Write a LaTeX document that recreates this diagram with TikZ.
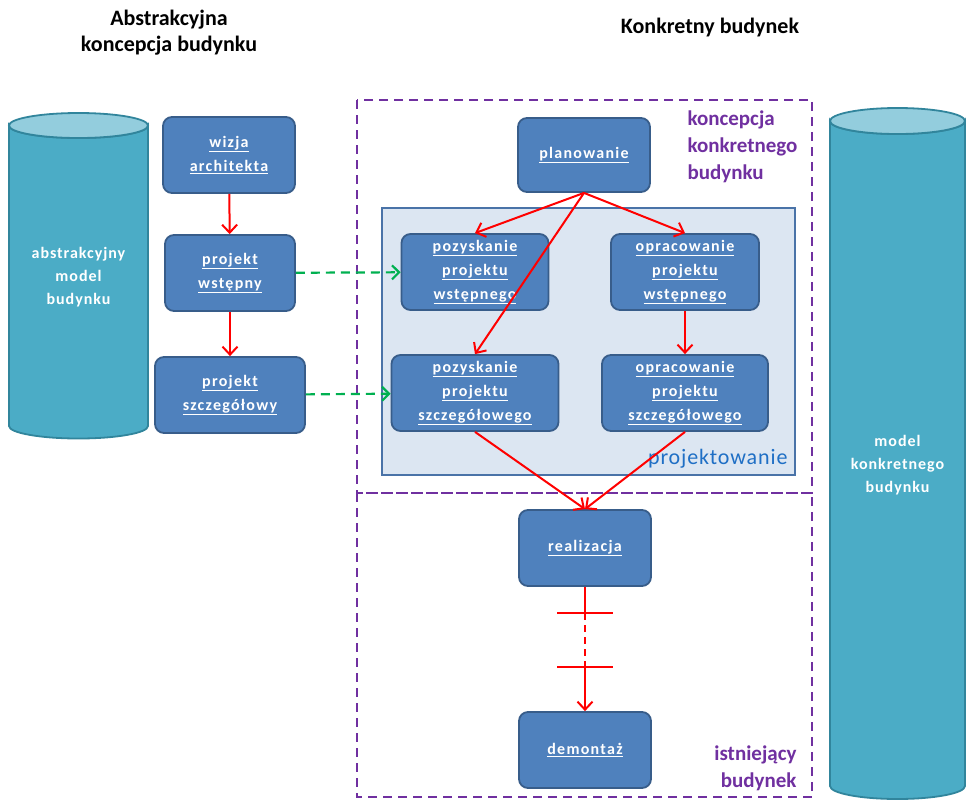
\documentclass[tikz,border=0pt]{standalone}
\usepackage{fontspec}
\setmainfont{Carlito}
\usetikzlibrary{arrows.meta}

\definecolor{boxfill}{HTML}{4F81BD}
\definecolor{boxline}{HTML}{385D8A}
\definecolor{cylbody}{HTML}{4BACC6}
\definecolor{cyltop}{HTML}{93CDDD}
\definecolor{cylline}{HTML}{31859C}
\definecolor{projfill}{HTML}{DCE6F2}
\definecolor{projline}{HTML}{4A73A8}
\definecolor{projtext}{HTML}{1F6FC5}
\definecolor{fiolet}{HTML}{7030A0}
\definecolor{zielony}{HTML}{00B050}

\newcommand{\podkr}[1]{\underline{#1}}

\tikzset{
	etap/.style={draw=boxline, line width=1.8pt, fill=boxfill, rounded corners=9pt, text=white, align=center,
		font=\bfseries\addfontfeature{LetterSpace=8}\fontsize{16}{24}\selectfont, minimum height=76pt, inner sep=0pt},
	strz/.style={draw=red, line width=2pt, -{Straight Barb[length=8pt,width=15pt]}},
	ziel/.style={draw=zielony, line width=2.2pt, dash pattern=on 9pt off 6pt, -{Straight Barb[length=7pt,width=14pt]}},
	ramka/.style={draw=fiolet, line width=2.2pt, dash pattern=on 9pt off 6pt},
	cyl/.style={fill=cylbody, draw=cylline, line width=1.8pt},
	cyltxt/.style={text=white, align=center, font=\bfseries\addfontfeature{LetterSpace=6}\fontsize{16}{23}\selectfont},
	tytul/.style={align=center, font=\bfseries\fontsize{22}{26}\selectfont},
	fioltxt/.style={text=fiolet, font=\bfseries\fontsize{21}{27}\selectfont}
}

\begin{document}
\begin{tikzpicture}[x=1pt, y=-1pt]
	\useasboundingbox (0,0) rectangle (967,804);
	
	% cylindry
	\draw[cyl] (9,125.5) -- (9,426) arc(180:0:69.5 and 12.5) -- (148,125.5) arc(0:180:69.5 and 12.5) -- cycle;
	\draw[cyl, fill=cyltop] (78.5,125.5) ellipse (69.5 and 12.5);
	\node[cyltxt] (cylabs) at (78.5,277) {abstrakcyjny\\model\\budynku};
	
	\draw[cyl] (830,121) -- (830,786) arc(180:0:67.5 and 13) -- (965,121) arc(0:180:67.5 and 13) -- cycle;
	\draw[cyl, fill=cyltop] (897.5,121) ellipse (67.5 and 13);
	\node[cyltxt] (cylkonk) at (897.5,465) {model\\konkretnego\\budynku};
	
	% tytuly
	\node[tytul] (tabs) at (169,33) {Abstrakcyjna\\koncepcja budynku};
	\node[tytul] (tkonk) at (710,28) {Konkretny budynek};
	
	% ramki
	\draw[ramka] (357,100) rectangle (812,493);
	\draw[ramka] (357,493) rectangle (812,797);
	\draw[draw=projline, fill=projfill, line width=1.5pt] (382,208) rectangle (795,475);
	\node[text=projtext, font=\addfontfeature{LetterSpace=4}\fontsize{22}{24}\selectfont, anchor=east] (tproj) at (791,459) {projektowanie};
	\node[fioltxt, align=left, anchor=north west] (tkonc) at (684,107) {koncepcja\\konkretnego\\budynku};
	\node[fioltxt, align=right, anchor=south east] (tistn) at (800,794) {istniejący\\budynek};
	
	% etapy
	\node[etap, minimum width=132pt] (wizja) at (229,155) {\podkr{wizja}\\\podkr{architekta}};
	\node[etap, minimum width=130pt] (pwst) at (230,273) {\podkr{projekt}\\\podkr{wstępny}};
	\node[etap, minimum width=150pt] (pszcz) at (230,395) {\podkr{projekt}\\\podkr{szczegółowy}};
	
	\node[etap, minimum width=132pt, minimum height=74pt] (plan) at (584,155) {\podkr{planowanie}};
	\node[etap, minimum width=147pt] (pozw) at (475,272) {\podkr{pozyskanie}\\\podkr{projektu}\\\podkr{wstępnego}};
	\node[etap, minimum width=148pt] (oprw) at (685,272) {\podkr{opracowanie}\\\podkr{projektu}\\\podkr{wstępnego}};
	\node[etap, minimum width=167pt] (pozs) at (475,393) {\podkr{pozyskanie}\\\podkr{projektu}\\\podkr{szczegółowego}};
	\node[etap, minimum width=166pt] (oprs) at (685,393) {\podkr{opracowanie}\\\podkr{projektu}\\\podkr{szczegółowego}};
	
	\node[etap, minimum width=132pt] (real) at (585,548) {\podkr{realizacja}};
	\node[etap, minimum width=132pt] (demo) at (585,750) {\podkr{demontaż}};
	
	% polaczenia
	\draw[strz] (wizja) -- (pwst);
	\draw[strz] (pwst) -- (pszcz);
	\draw[ziel] (pwst) -- (pozw);
	\draw[ziel] (pszcz) -- (pozs);
	
	\foreach \cel in {pozw,oprw,pozs}
		\draw[strz] (plan.south) -- (\cel.north);
	\draw[strz] (oprw) -- (oprs);
	\draw[strz] (pozs.south) -- (real.north);
	\draw[strz] (oprs.south) -- (real.north);
	
	\coordinate (kr1) at (585,613);
	\coordinate (kr2) at (585,667);
	\draw[red, line width=2pt] (real.south) -- (kr1);
	\draw[red, line width=2pt, dash pattern=on 7pt off 5pt] (kr1) -- (kr2);
	\draw[strz] (kr2) -- (demo.north);
	\foreach \k in {kr1,kr2}
		\draw[red, line width=2.4pt] ([xshift=-28pt]\k) -- ([xshift=28pt]\k);
\end{tikzpicture}
\end{document}
